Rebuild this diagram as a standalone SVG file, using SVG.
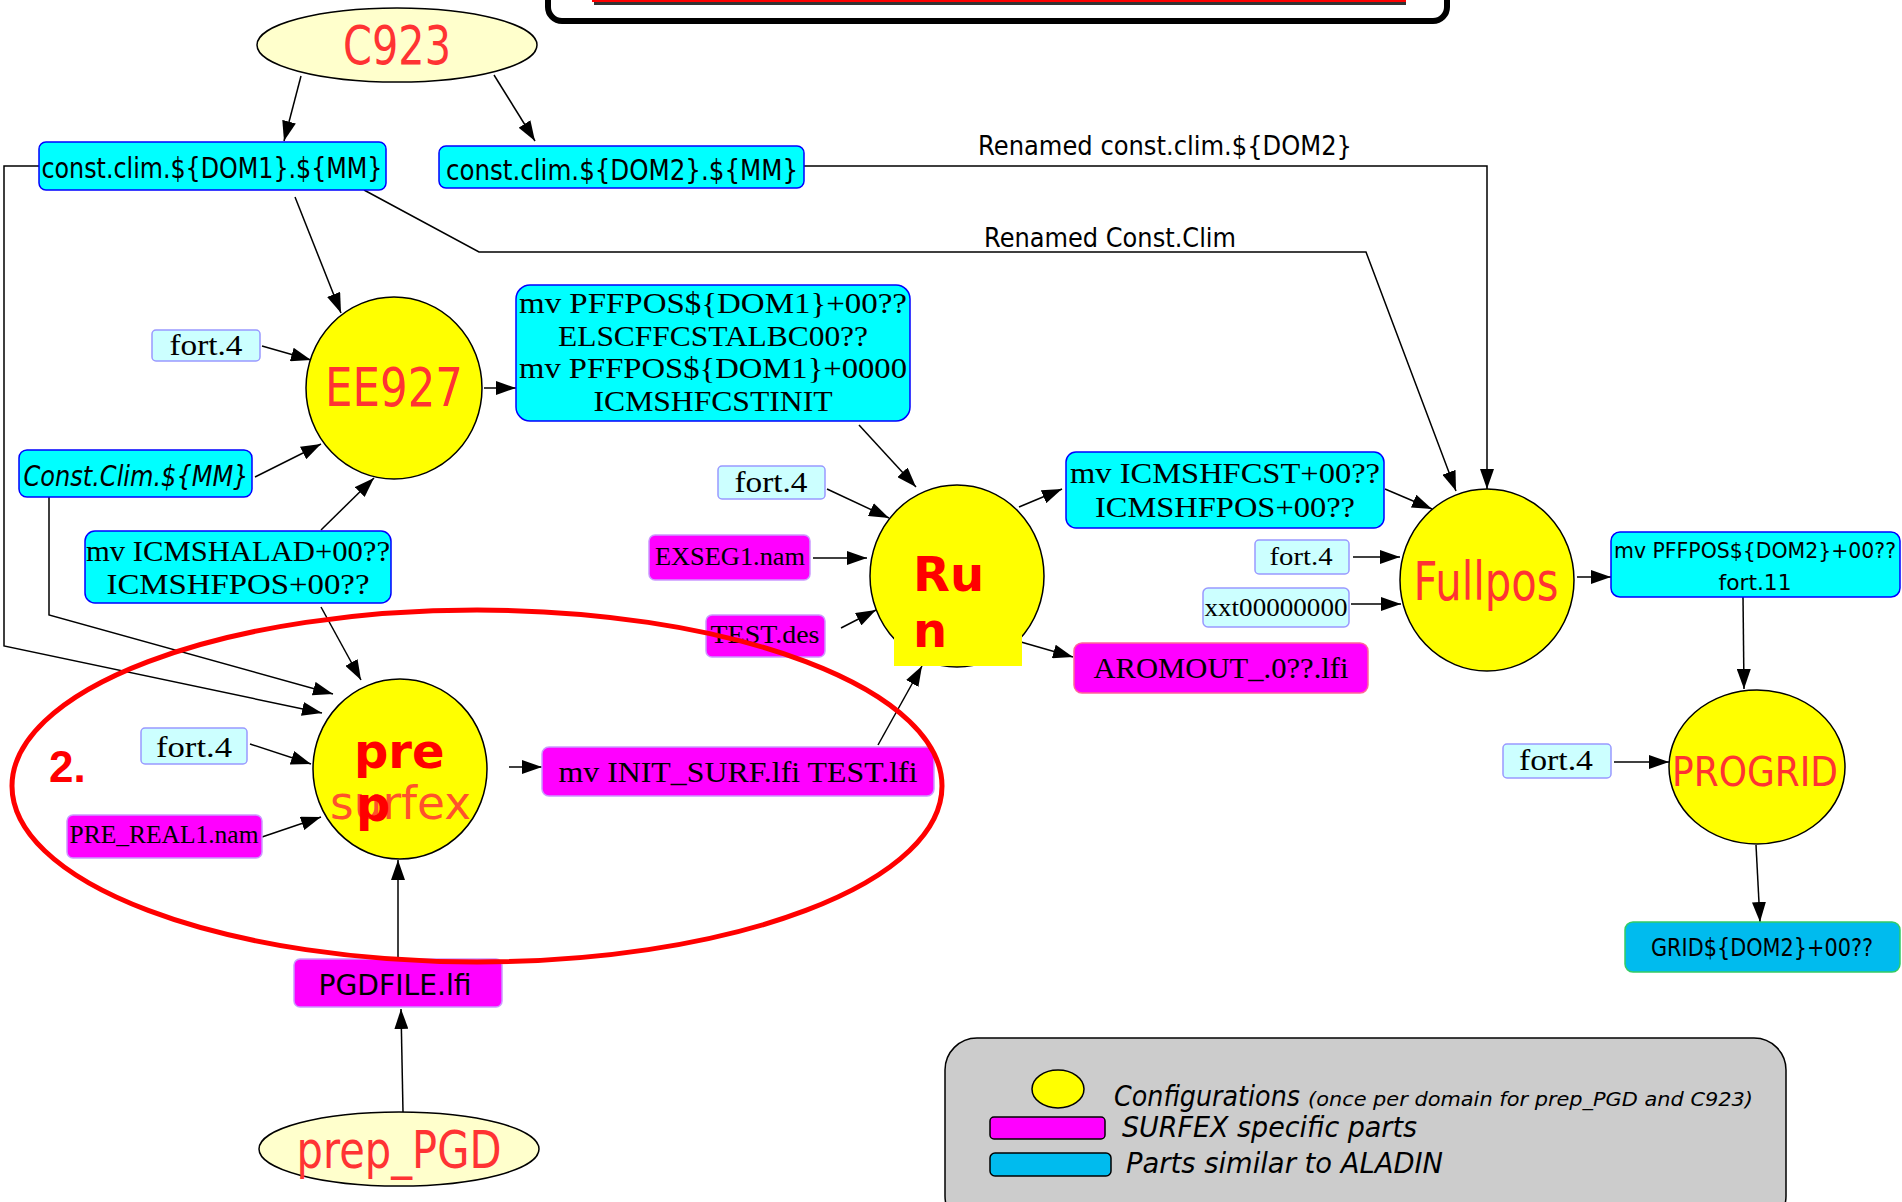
<svg xmlns="http://www.w3.org/2000/svg" width="1902" height="1202" viewBox="0 0 1902 1202">
<defs>
<marker id="arr" viewBox="0 0 20 14" refX="20" refY="7" markerWidth="20" markerHeight="14" markerUnits="userSpaceOnUse" orient="auto">
<path d="M0,0 L20,7 L0,14 z" fill="#000"/>
</marker>
</defs>
<style>
.edge{fill:none;stroke:#000;stroke-width:1.5;marker-end:url(#arr)}
.line{fill:none;stroke:#000;stroke-width:1.5}
.cyan{fill:#00ffff;stroke:#0000ff;stroke-width:1.5}
.lcyan{fill:#ccffff;stroke:#9999ff;stroke-width:1.5}
.mag{fill:#ff00ff;stroke:#cc99ff;stroke-width:1.5}
.conf{fill:#ffff00;stroke:#000;stroke-width:1.5}
.pale{fill:#ffffcc;stroke:#000;stroke-width:1.5}
.comic{font-family:"DejaVu Sans",sans-serif;fill:#000}
.serif{font-family:"Liberation Serif","DejaVu Serif",serif;fill:#000}
.big{font-family:"DejaVu Sans",sans-serif;fill:#ff3333}
.bold{font-family:"DejaVu Sans",sans-serif;font-weight:bold;fill:#ff0000}
</style>
<rect width="1902" height="1202" fill="#fff"/>

<g id="top-box">
<rect x="548" y="-40" width="899" height="61" rx="14" fill="#fff" stroke="#000" stroke-width="6"/>
<rect x="592" y="-4" width="814" height="6" fill="#ff0000"/>
<rect x="594" y="2" width="812" height="3" fill="#333"/>
</g>

<g id="connectors">
<line class="edge" x1="301" y1="76" x2="284" y2="141"/>
<line class="edge" x1="494" y1="75" x2="535" y2="141"/>
<polyline class="edge" points="804,166 1487,166 1487,489"/>
<polyline class="edge" points="364,190 479,252 1366,252 1456,491"/>
<line class="edge" x1="295" y1="197" x2="341" y2="313"/>
<polyline class="edge" points="39,166 4,166 4,646 322,713"/>
<line class="edge" x1="255" y1="477" x2="321" y2="444"/>
<polyline class="edge" points="49,497 49,615 333,694"/>
<line class="edge" x1="262" y1="346" x2="311" y2="360"/>
<line class="edge" x1="321" y1="530" x2="374" y2="478"/>
<line class="edge" x1="484" y1="388" x2="516" y2="388"/>
<line class="edge" x1="321" y1="607" x2="361" y2="680"/>
<line class="edge" x1="859" y1="425" x2="916" y2="487"/>
<line class="edge" x1="827" y1="489" x2="889" y2="518"/>
<line class="edge" x1="813" y1="558" x2="867" y2="558"/>
<line class="edge" x1="841" y1="628" x2="876" y2="610"/>
<line class="edge" x1="1019" y1="507" x2="1062" y2="489"/>
<line class="edge" x1="1021" y1="642" x2="1073" y2="657"/>
<line class="edge" x1="878" y1="745" x2="922" y2="666"/>
<line class="edge" x1="509" y1="767" x2="542" y2="767"/>
<line class="edge" x1="250" y1="744" x2="311" y2="764"/>
<line class="edge" x1="262" y1="837" x2="321" y2="817"/>
<line class="edge" x1="398" y1="958" x2="398" y2="860"/>
<line class="edge" x1="403" y1="1112" x2="401" y2="1009"/>
<line class="edge" x1="1385" y1="489" x2="1432" y2="509"/>
<line class="edge" x1="1353" y1="557" x2="1400" y2="557"/>
<line class="edge" x1="1351" y1="604" x2="1401" y2="604"/>
<line class="edge" x1="1577" y1="577" x2="1611" y2="577"/>
<line class="edge" x1="1743" y1="597" x2="1744" y2="689"/>
<line class="edge" x1="1614" y1="762" x2="1669" y2="762"/>
<line class="edge" x1="1756" y1="845" x2="1760" y2="922"/>
</g>

<g id="edge-labels">
<text class="comic" x="978" y="155" font-size="26" textLength="374" lengthAdjust="spacingAndGlyphs">Renamed const.clim.${DOM2}</text>
<text class="comic" x="984" y="247" font-size="26" textLength="252" lengthAdjust="spacingAndGlyphs">Renamed Const.Clim</text>
</g>

<g id="n-c923">
<ellipse class="pale" cx="397" cy="45" rx="140" ry="37"/>
<text class="big" x="397" y="64" font-size="54" text-anchor="middle" textLength="108" lengthAdjust="spacingAndGlyphs">C923</text>
</g>
<g id="n-const1">
<rect class="cyan" x="39" y="142" width="347" height="48" rx="7"/>
<text class="comic" x="212" y="178" font-size="28" text-anchor="middle" textLength="341" lengthAdjust="spacingAndGlyphs">const.clim.${DOM1}.${MM}</text>
</g>
<g id="n-const2">
<rect class="cyan" x="439" y="146" width="365" height="42" rx="7"/>
<text class="comic" x="622" y="180" font-size="28" text-anchor="middle" textLength="352" lengthAdjust="spacingAndGlyphs">const.clim.${DOM2}.${MM}</text>
</g>
<g id="n-ee927">
<ellipse class="conf" cx="394" cy="388" rx="88" ry="91"/>
<text class="big" x="394" y="406" font-size="54" text-anchor="middle" textLength="138" lengthAdjust="spacingAndGlyphs">EE927</text>
</g>
<g id="n-fort4a">
<rect class="lcyan" x="152" y="330" width="108" height="31" rx="4"/>
<text class="serif" x="206" y="355" font-size="30" text-anchor="middle" textLength="73" lengthAdjust="spacingAndGlyphs">fort.4</text>
</g>
<g id="n-constclim">
<rect class="cyan" x="19" y="450" width="233" height="47" rx="8"/>
<text class="comic" x="136" y="486" font-size="28" font-style="italic" text-anchor="middle" textLength="225" lengthAdjust="spacingAndGlyphs">Const.Clim.${MM}</text>
</g>
<g id="n-icmshalad">
<rect class="cyan" x="85" y="531" width="306" height="72" rx="10"/>
<text class="serif" x="238" y="561" font-size="30" text-anchor="middle" textLength="304" lengthAdjust="spacingAndGlyphs">mv ICMSHALAD+00??</text>
<text class="serif" x="238" y="594" font-size="30" text-anchor="middle" textLength="263" lengthAdjust="spacingAndGlyphs">ICMSHFPOS+00??</text>
</g>
<g id="n-pffpos1">
<rect class="cyan" x="516" y="285" width="394" height="136" rx="14"/>
<text class="serif" x="713" y="313" font-size="30" text-anchor="middle" textLength="388" lengthAdjust="spacingAndGlyphs">mv PFFPOS${DOM1}+00??</text>
<text class="serif" x="713" y="346" font-size="30" text-anchor="middle" textLength="310" lengthAdjust="spacingAndGlyphs">ELSCFFCSTALBC00??</text>
<text class="serif" x="713" y="378" font-size="30" text-anchor="middle" textLength="388" lengthAdjust="spacingAndGlyphs">mv PFFPOS${DOM1}+0000</text>
<text class="serif" x="713" y="411" font-size="30" text-anchor="middle" textLength="239" lengthAdjust="spacingAndGlyphs">ICMSHFCSTINIT</text>
</g>
<g id="n-run">
<ellipse class="conf" cx="957" cy="576" rx="87" ry="91"/>
<rect x="894" y="545" width="128" height="121" fill="#ffff00"/>
<text class="bold" x="913" y="591" font-size="48">Ru</text>
<text class="bold" x="913" y="647" font-size="48">n</text>
</g>
<g id="n-fort4b">
<rect class="lcyan" x="718" y="466" width="107" height="33" rx="4"/>
<text class="serif" x="771" y="492" font-size="30" text-anchor="middle" textLength="73" lengthAdjust="spacingAndGlyphs">fort.4</text>
</g>
<g id="n-exseg">
<rect class="mag" x="649" y="535" width="161" height="45" rx="6"/>
<text class="serif" x="730" y="565" font-size="25" text-anchor="middle" textLength="150" lengthAdjust="spacingAndGlyphs">EXSEG1.nam</text>
</g>
<g id="n-testdes">
<rect class="mag" x="706" y="615" width="119" height="42" rx="6"/>
<text class="serif" x="765" y="643" font-size="26" text-anchor="middle" textLength="109" lengthAdjust="spacingAndGlyphs">TEST.des</text>
</g>
<g id="n-icmshfcst">
<rect class="cyan" x="1066" y="452" width="318" height="76" rx="10"/>
<text class="serif" x="1225" y="483" font-size="30" text-anchor="middle" textLength="310" lengthAdjust="spacingAndGlyphs">mv ICMSHFCST+00??</text>
<text class="serif" x="1225" y="517" font-size="30" text-anchor="middle" textLength="260" lengthAdjust="spacingAndGlyphs">ICMSHFPOS+00??</text>
</g>
<g id="n-aromout">
<rect x="1074" y="643" width="294" height="50" rx="8" fill="#ff00ff" stroke="#ff6699" stroke-width="1.5"/>
<text class="serif" x="1221" y="678" font-size="30" text-anchor="middle" textLength="255" lengthAdjust="spacingAndGlyphs">AROMOUT_.0??.lfi</text>
</g>
<g id="n-fullpos">
<ellipse class="conf" cx="1487" cy="580" rx="87" ry="91"/>
<text class="big" x="1486" y="600" font-size="54" text-anchor="middle" textLength="145" lengthAdjust="spacingAndGlyphs">Fullpos</text>
</g>
<g id="n-fort4c">
<rect class="lcyan" x="1255" y="540" width="94" height="34" rx="4"/>
<text class="serif" x="1301" y="565" font-size="26" text-anchor="middle" textLength="63" lengthAdjust="spacingAndGlyphs">fort.4</text>
</g>
<g id="n-xxt">
<rect class="lcyan" x="1203" y="588" width="146" height="39" rx="5"/>
<text class="serif" x="1276" y="616" font-size="26" text-anchor="middle" textLength="143" lengthAdjust="spacingAndGlyphs">xxt00000000</text>
</g>
<g id="n-pffpos2">
<rect class="cyan" x="1611" y="532" width="289" height="65" rx="9"/>
<text class="comic" x="1755" y="558" font-size="22" text-anchor="middle" textLength="282" lengthAdjust="spacingAndGlyphs">mv PFFPOS${DOM2}+00??</text>
<text class="comic" x="1755" y="590" font-size="22" text-anchor="middle" textLength="73" lengthAdjust="spacingAndGlyphs">fort.11</text>
</g>
<g id="n-progrid">
<ellipse class="conf" cx="1757" cy="767" rx="88" ry="77"/>
<text class="big" x="1755" y="786" font-size="40" text-anchor="middle" textLength="166" lengthAdjust="spacingAndGlyphs">PROGRID</text>
</g>
<g id="n-fort4d">
<rect class="lcyan" x="1503" y="744" width="108" height="34" rx="4"/>
<text class="serif" x="1556" y="770" font-size="30" text-anchor="middle" textLength="74" lengthAdjust="spacingAndGlyphs">fort.4</text>
</g>
<g id="n-grid">
<rect x="1625" y="922" width="275" height="50" rx="8" fill="#00bbee" stroke="#33cc66" stroke-width="1.5"/>
<text class="comic" x="1762" y="956" font-size="24" text-anchor="middle" textLength="222" lengthAdjust="spacingAndGlyphs">GRID${DOM2}+00??</text>
</g>
<g id="n-presurfex">
<ellipse class="conf" cx="400" cy="769" rx="87" ry="90"/>
<text class="big" x="330" y="819" font-size="46" fill-opacity="0.85" textLength="141" lengthAdjust="spacingAndGlyphs">surfex</text>
<text class="bold" x="354" y="768" font-size="48">pre</text>
<text class="bold" x="356" y="821" font-size="48">p</text>
</g>
<g id="n-fort4e">
<rect class="lcyan" x="141" y="728" width="106" height="36" rx="4"/>
<text class="serif" x="194" y="757" font-size="30" text-anchor="middle" textLength="76" lengthAdjust="spacingAndGlyphs">fort.4</text>
</g>
<g id="n-prereal">
<rect class="mag" x="67" y="815" width="195" height="43" rx="6"/>
<text class="serif" x="164" y="843" font-size="25" text-anchor="middle" textLength="189" lengthAdjust="spacingAndGlyphs">PRE_REAL1.nam</text>
</g>
<g id="n-initsurf">
<rect class="mag" x="542" y="747" width="392" height="49" rx="7"/>
<text class="serif" x="738" y="782" font-size="30" text-anchor="middle" textLength="359" lengthAdjust="spacingAndGlyphs">mv INIT_SURF.lfi TEST.lfi</text>
</g>
<g id="n-pgdfile">
<rect class="mag" x="294" y="959" width="208" height="48" rx="6"/>
<text class="comic" x="395" y="995" font-size="28" text-anchor="middle" textLength="153" lengthAdjust="spacingAndGlyphs">PGDFILE.lfi</text>
</g>
<g id="n-preppgd">
<ellipse class="pale" cx="399" cy="1149" rx="140" ry="37"/>
<text class="big" x="399" y="1168" font-size="52" text-anchor="middle" textLength="205" lengthAdjust="spacingAndGlyphs">prep_PGD</text>
</g>

<g id="highlight">
<ellipse cx="477" cy="786" rx="465" ry="176" fill="none" stroke="#ff0000" stroke-width="5"/>
<text x="49" y="782" font-family="Liberation Sans, Arial, sans-serif" font-weight="bold" font-size="44" fill="#ff0000">2.</text>
</g>

<g id="legend">
<rect x="945" y="1038" width="841" height="190" rx="32" fill="#cccccc" stroke="#000" stroke-width="1.5"/>
<ellipse cx="1058" cy="1089" rx="26" ry="19" fill="#ffff00" stroke="#000" stroke-width="1.5"/>
<rect x="990" y="1117" width="115" height="22" rx="4" fill="#ff00ff" stroke="#000" stroke-width="1.5"/>
<rect x="990" y="1153" width="121" height="23" rx="5" fill="#00bbee" stroke="#000" stroke-width="1.5"/>
<text class="comic" x="1114" y="1106" font-size="28" font-style="italic" textLength="186" lengthAdjust="spacingAndGlyphs">Configurations</text>
<text class="comic" x="1308" y="1106" font-size="20" font-style="italic" textLength="445" lengthAdjust="spacingAndGlyphs">(once per domain for prep_PGD and C923)</text>
<text class="comic" x="1122" y="1137" font-size="28" font-style="italic" textLength="295" lengthAdjust="spacingAndGlyphs">SURFEX specific parts</text>
<text class="comic" x="1126" y="1173" font-size="28" font-style="italic" textLength="317" lengthAdjust="spacingAndGlyphs">Parts similar to ALADIN</text>
</g>
</svg>
